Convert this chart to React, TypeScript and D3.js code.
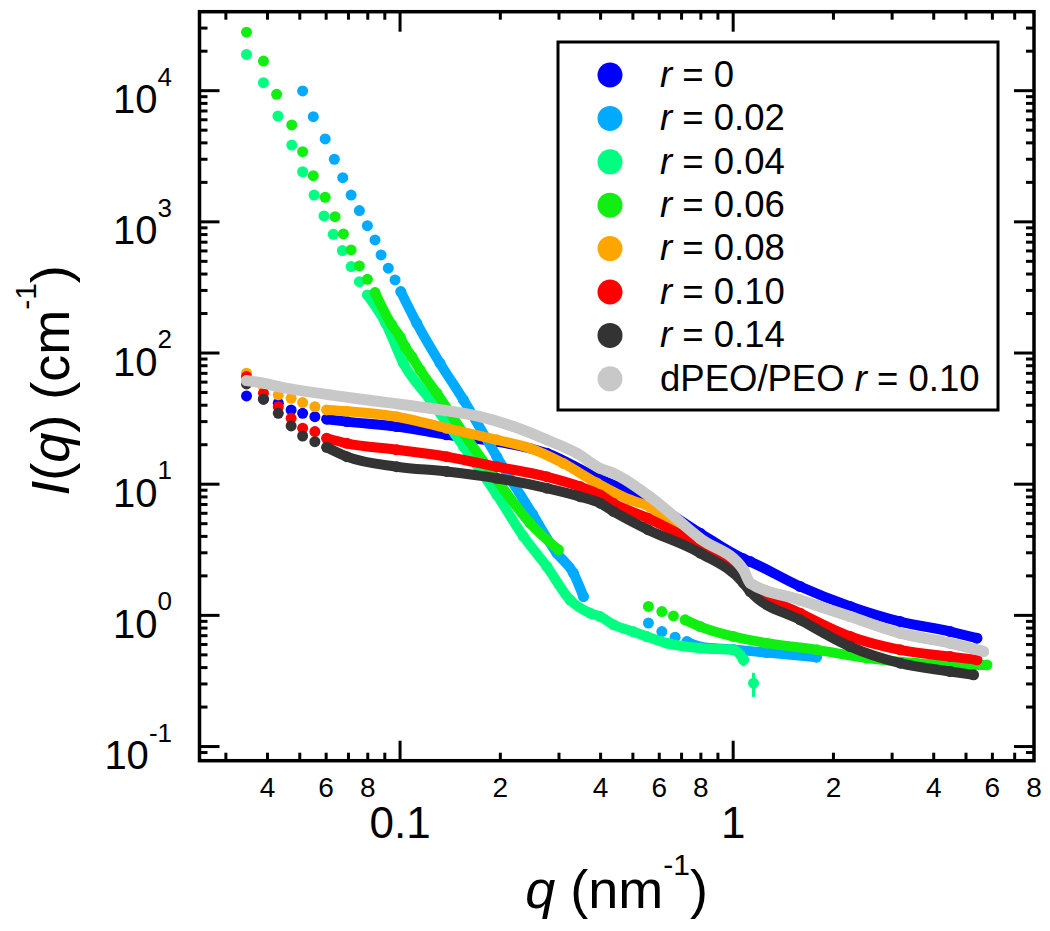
import React from 'react';
import * as d3 from 'd3';

// ---------- axis / tick data ----------
const xDomain: [number, number] = [0.025, 8];
const yDomain: [number, number] = [0.078, 40000];
const xMajorTicks = [0.1, 1];
const xMajorLabels = ['0.1', '1'];
const xMinorLabelTicks = [0.04, 0.06, 0.08, 0.2, 0.4, 0.6, 0.8, 2, 4, 6, 8];
const xMinorLabels = ['4', '6', '8', '2', '4', '6', '8', '2', '4', '6', '8'];
const yExponents = [-1, 0, 1, 2, 3, 4];

// ---------- series data (q in nm^-1, I in cm^-1) ----------
// r = 0
const qR0 = [0.0346, 0.0389, 0.0431, 0.0471, 0.051, 0.0555, 0.0602, 0.0692, 0.0977, 0.138, 0.195, 0.276, 0.39, 0.563, 0.796, 1.074, 1.125, 1.589, 2.246, 3.173, 4.484, 5.393];
const iR0 = [47.1, 44.5, 41.4, 36.8, 34.7, 32.7, 31.3, 30.0, 27.5, 23.8, 21.1, 17.2, 11.2, 7.4, 4.23, 2.7, 2.57, 1.66, 1.17, 0.897, 0.753, 0.67];
// r = 0.02
const qR02a = [0.051, 0.0549, 0.0596, 0.0635, 0.0673, 0.0713, 0.0755, 0.0798, 0.0841, 0.0877, 0.0922, 0.0966, 0.1005, 0.1122, 0.1318, 0.155, 0.1952, 0.25, 0.2955, 0.3315, 0.3553];
const iR02a = [9950, 6340, 4290, 3000, 2170, 1600, 1220, 935, 728, 560, 443, 361, 294, 169, 83.6, 43.9, 16.2, 5.9, 2.98, 2.1, 1.39];
const qR02b = [0.5567, 0.6108, 0.6695, 0.7261, 0.8, 1.0, 1.26, 1.78];
const iR02b = [0.873, 0.753, 0.682, 0.631, 0.575, 0.55, 0.52, 0.48];
// r = 0.04
const qR04 = [0.0346, 0.0389, 0.043, 0.0473, 0.051, 0.0552, 0.0591, 0.063, 0.0671, 0.0713, 0.0755, 0.0798, 0.0905, 0.1023, 0.1231, 0.155, 0.1952, 0.2346, 0.2758, 0.324, 0.3721, 0.3987, 0.437, 0.502, 0.55, 0.6324, 0.7963, 1.002, 1.074];
const iR04 = [18900, 11500, 6410, 3850, 2410, 1600, 1110, 804, 604, 456, 350, 277, 169, 83.6, 43.9, 19.4, 8.3, 4.0, 2.36, 1.31, 1.04, 0.98, 0.85, 0.75, 0.69, 0.614, 0.562, 0.546, 0.46];
const qR04Err = [1.074, 1.151];
const iR04Err = [0.46, 0.304];
const loR04Err = [0.41, 0.239];
const hiR04Err = [0.53, 0.365];
// r = 0.06
const qR06a = [0.0346, 0.0389, 0.0426, 0.0473, 0.051, 0.0549, 0.0596, 0.0638, 0.0676, 0.0713, 0.0755, 0.0798, 0.0841, 0.0944, 0.1, 0.1035, 0.1084, 0.1148, 0.1289, 0.155, 0.1952, 0.2457, 0.2988];
const iR06a = [27900, 16800, 9380, 5480, 3430, 2250, 1540, 1096, 809, 611, 461, 365, 289, 164, 133, 112, 94, 74.3, 49.4, 24.5, 10.8, 5.04, 3.16];
const qR06b = [0.5567, 0.6108, 0.6617, 0.7176, 0.7963, 1.002, 1.262, 1.784, 2.521, 3.562, 4.484, 5.78];
const iR06b = [1.17, 1.07, 0.991, 0.924, 0.822, 0.69, 0.614, 0.546, 0.472, 0.432, 0.419, 0.419];
// r = 0.08
const qR08 = [0.0346, 0.0389, 0.0431, 0.0471, 0.051, 0.0555, 0.0602, 0.0692, 0.0977, 0.1381, 0.1952, 0.2457, 0.3093, 0.3897, 0.4906, 0.5633, 0.6617, 0.7963, 1.125, 1.589, 2.246, 3.173, 4.484, 5.5];
const iR08 = [70.2, 55.5, 48.0, 45.2, 41.9, 39.0, 36.8, 36.0, 32.7, 26.7, 21.8, 18.8, 14.4, 10.2, 7.59, 6.7, 4.75, 3.8, 1.76, 1.31, 0.979, 0.732, 0.614, 0.54];
// r = 0.10
const qR10 = [0.0346, 0.0389, 0.0431, 0.0471, 0.051, 0.0555, 0.0602, 0.0692, 0.0977, 0.1381, 0.1952, 0.2758, 0.3472, 0.3987, 0.437, 0.555, 0.7963, 1.074, 1.125, 1.589, 2.246, 3.173, 4.484, 5.393];
const iR10 = [66.1, 49.4, 39.0, 31.8, 26.7, 25.2, 22.4, 20.5, 18.3, 16.2, 13.6, 11.4, 9.59, 8.28, 7.16, 5.5, 3.34, 1.85, 1.66, 1.04, 0.69, 0.546, 0.485, 0.458];
// r = 0.14
const qR14 = [0.0346, 0.0389, 0.0431, 0.0471, 0.051, 0.0555, 0.0602, 0.0692, 0.0977, 0.1381, 0.1952, 0.2758, 0.3472, 0.3987, 0.437, 0.555, 0.7963, 1.074, 1.125, 1.589, 2.246, 3.173, 4.484, 5.268];
const iR14 = [58.1, 44.5, 34.7, 27.8, 23.3, 21.1, 19.1, 16.2, 13.6, 12.5, 11.1, 9.33, 8.04, 7.16, 6.2, 4.5, 2.98, 1.76, 1.52, 0.924, 0.578, 0.432, 0.373, 0.352];
// dPEO/PEO r = 0.10
const qPEO = [0.0346, 0.0389, 0.0431, 0.0616, 0.0871, 0.1231, 0.1739, 0.2189, 0.2758, 0.3394, 0.3987, 0.437, 0.5633, 0.7963, 1.074, 1.125, 1.589, 2.246, 3.173, 4.484, 5.646];
const iPEO = [61.6, 58.9, 55.5, 48.0, 42.6, 37.9, 32.7, 27.5, 21.8, 17.2, 13.2, 12.1, 8.0, 3.85, 2.22, 1.76, 1.31, 0.979, 0.732, 0.614, 0.53];

const seriesColors = ['#0000ff', '#00aaff', '#00ff80', '#11ee11', '#ffa500', '#ff0000', '#333333', '#c8c8c8'];
const legendPrefix = ['', '', '', '', '', '', '', 'dPEO/PEO '];
const legendValues = ['0', '0.02', '0.04', '0.06', '0.08', '0.10', '0.14', '0.10'];

type Seg = { q: number[]; I: number[]; denseFrom: number };
const seriesSegments: Seg[][] = [
  [{ q: qR0, I: iR0, denseFrom: 0.0602 }],
  [{ q: qR02a, I: iR02a, denseFrom: 0.1005 }, { q: qR02b, I: iR02b, denseFrom: 0.7261 }],
  [{ q: qR04, I: iR04, denseFrom: 0.0798 }],
  [{ q: qR06a, I: iR06a, denseFrom: 0.0841 }, { q: qR06b, I: iR06b, denseFrom: 0.7176 }],
  [{ q: qR08, I: iR08, denseFrom: 0.0602 }],
  [{ q: qR10, I: iR10, denseFrom: 0.0602 }],
  [{ q: qR14, I: iR14, denseFrom: 0.0602 }],
  [{ q: qPEO, I: iPEO, denseFrom: 0.0346 }],
];

const FONT = "Arial, 'Liberation Sans', Helvetica, sans-serif";

export default function App() {
  const X0 = 199.5, X1 = 1034, Y0 = 11.7, Y1 = 760.7;
  const x = d3.scaleLog().domain(xDomain).range([X0, X1]);
  const y = d3.scaleLog().domain(yDomain).range([Y1, Y0]);
  const line = d3
    .line<[number, number]>()
    .x((d) => x(d[0]))
    .y((d) => y(d[1]))
    .curve(d3.curveMonotoneX);

  const xMinor: number[] = [];
  for (let e = -2; e <= 0; e++)
    for (let k = 2; k <= 9; k++) {
      const v = k * Math.pow(10, e);
      if (v > xDomain[0] * 1.02 && v < xDomain[1] * 0.99) xMinor.push(v);
    }
  const yMinor: number[] = [];
  for (let e = -2; e <= 4; e++)
    for (let k = 2; k <= 9; k++) {
      const v = k * Math.pow(10, e);
      if (v > yDomain[0] * 1.06 && v < yDomain[1] * 0.95) yMinor.push(v);
    }
  const MAJ = 20, MIN = 8, TW = 3;
  const R = 5.5;

  const legendX = 558, legendY = 42, legendW = 440, legendH = 368;

  return (
    <svg width={1050} height={931} style={{ position: 'absolute', left: 0, top: 0, background: '#fff' }} fontFamily={FONT}>
      <rect x={0} y={0} width={1050} height={931} fill="#fff" />
      {/* data */}
      {seriesSegments.map((segs, si) => (
        <g key={si}>
          {segs.map((seg, gi) => {
            const pts: [number, number][] = seg.q.map((q, i) => [q, seg.I[i]]);
            const dense = pts.filter((p) => p[0] >= seg.denseFrom);
            return (
              <g key={gi}>
                {dense.length > 1 && (
                  <path d={line(dense) || ''} fill="none" stroke={seriesColors[si]} strokeWidth={si === 7 ? 11 : 10} strokeLinecap="round" strokeLinejoin="round" />
                )}
                {pts.map((p, i) => (
                  <circle key={i} cx={x(p[0])} cy={y(p[1])} r={R} fill={seriesColors[si]} />
                ))}
              </g>
            );
          })}
          {si === 2 &&
            qR04Err.map((q, i) => (
              <g key={'e' + i}>
                <line x1={x(q)} x2={x(q)} y1={y(loR04Err[i])} y2={y(hiR04Err[i])} stroke={seriesColors[2]} strokeWidth={3} />
                <circle cx={x(q)} cy={y(iR04Err[i])} r={R} fill={seriesColors[2]} />
              </g>
            ))}
        </g>
      ))}

      {/* frame */}
      <rect x={X0} y={Y0} width={X1 - X0} height={Y1 - Y0} fill="none" stroke="#000" strokeWidth={3.5} />
      {/* x ticks */}
      {xMajorTicks.map((v) => (
        <g key={'xm' + v}>
          <line x1={x(v)} x2={x(v)} y1={Y1} y2={Y1 - MAJ} stroke="#000" strokeWidth={TW} />
          <line x1={x(v)} x2={x(v)} y1={Y0} y2={Y0 + MAJ} stroke="#000" strokeWidth={TW} />
        </g>
      ))}
      {xMinor.map((v) => (
        <g key={'xn' + v}>
          <line x1={x(v)} x2={x(v)} y1={Y1} y2={Y1 - MIN} stroke="#000" strokeWidth={TW} />
          <line x1={x(v)} x2={x(v)} y1={Y0} y2={Y0 + MIN} stroke="#000" strokeWidth={TW} />
        </g>
      ))}
      {/* y ticks */}
      {yExponents.map((e) => {
        const v = Math.pow(10, e);
        return (
          <g key={'ym' + e}>
            <line x1={X0} x2={X0 + MAJ} y1={y(v)} y2={y(v)} stroke="#000" strokeWidth={TW} />
            <line x1={X1} x2={X1 - MAJ} y1={y(v)} y2={y(v)} stroke="#000" strokeWidth={TW} />
          </g>
        );
      })}
      {yMinor.map((v) => (
        <g key={'yn' + v}>
          <line x1={X0} x2={X0 + MIN} y1={y(v)} y2={y(v)} stroke="#000" strokeWidth={TW} />
          <line x1={X1} x2={X1 - MIN} y1={y(v)} y2={y(v)} stroke="#000" strokeWidth={TW} />
        </g>
      ))}

      {/* x tick labels */}
      {xMinorLabelTicks.map((v, i) => (
        <text key={'xl' + i} x={x(v)} y={797} fontSize={28} textAnchor="middle" fill="#000">
          {xMinorLabels[i]}
        </text>
      ))}
      {xMajorTicks.map((v, i) => (
        <text key={'xL' + i} x={x(v)} y={838} fontSize={44} textAnchor="middle" fill="#000">
          {xMajorLabels[i]}
        </text>
      ))}
      {/* y tick labels */}
      {yExponents.map((e) => (
        <text key={'yl' + e} x={172} y={y(Math.pow(10, e)) + 22.5} fontSize={40} textAnchor="end" fill="#000">
          10
          <tspan fontSize={26} dy={-27.5}>
            {String(e)}
          </tspan>
        </text>
      ))}

      {/* axis titles */}
      <text x={616.5} y={908} fontSize={54} textAnchor="middle" fill="#000">
        <tspan fontStyle="italic">q</tspan>
        <tspan> (nm</tspan>
        <tspan fontSize={30} dy={-33}>-1</tspan>
        <tspan dy={33}>)</tspan>
      </text>
      <text transform="translate(69,380.5) rotate(-90)" x={0} y={0} fontSize={54} textAnchor="middle" fill="#000">
        <tspan fontStyle="italic">I</tspan>
        <tspan>(</tspan>
        <tspan fontStyle="italic">q</tspan>
        <tspan>) (cm</tspan>
        <tspan fontSize={30} dy={-33}>-1</tspan>
        <tspan dy={33}>)</tspan>
      </text>

      {/* legend */}
      <rect x={legendX} y={legendY} width={legendW} height={legendH} fill="#fff" stroke="#000" strokeWidth={3} />
      {legendValues.map((val, i) => {
        const cy = 75 + i * 43.4;
        return (
          <g key={'lg' + i}>
            <circle cx={610} cy={cy} r={12.5} fill={seriesColors[i]} />
            <text x={660} y={cy + 11.8} fontSize={36.5} fill="#000">
              {legendPrefix[i] && <tspan>{legendPrefix[i]}</tspan>}
              <tspan fontStyle="italic">r</tspan>
              <tspan>{' = ' + val}</tspan>
            </text>
          </g>
        );
      })}
    </svg>
  );
}
